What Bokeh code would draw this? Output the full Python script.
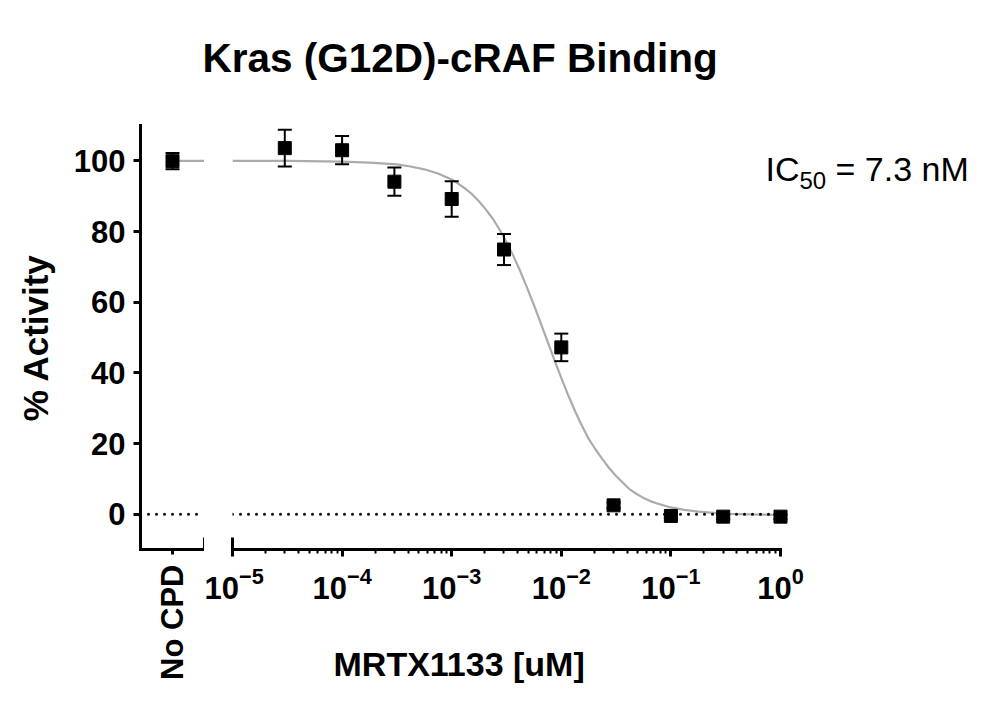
import math
from bokeh.plotting import figure
from bokeh.models import (ColumnDataSource, Range1d, FactorRange, LinearAxis,
                          FixedTicker, Whisker, TeeHead, Span, Label, Title)
from bokeh.layouts import row
from bokeh.embed import file_html
from bokeh.resources import INLINE

# ---------------- data ----------------
title_text = "Kras (G12D)-cRAF Binding"
y_label = "% Activity"
x_label = "MRTX1133 [uM]"
y_ticks = [0, 20, 40, 60, 80, 100]

control_label = ["No CPD"]
control_activity = [99.9]
control_sem = [2.3]

conc_uM = [3e-5, 1e-4, 3e-4, 1e-3, 3e-3, 1e-2, 3e-2, 1e-1, 3e-1, 1.0]
activity = [103.6, 103.0, 94.1, 89.2, 74.9, 47.2, 2.5, -0.5, -0.7, -0.7]
sem = [5.2, 4.0, 4.0, 5.0, 4.4, 3.9, 0.8, 0.6, 0.6, 0.6]

# fitted curve (log10 of concentration, % activity)
curve_log_conc = [-5.0, -4.5, -4.0, -3.75, -3.5, -3.375, -3.25, -3.125,
                  -3.0, -2.9375, -2.875, -2.8125, -2.75, -2.6875, -2.625,
                  -2.5625, -2.5, -2.4375, -2.375, -2.3125, -2.25, -2.1875,
                  -2.125, -2.0625, -2.0, -1.9375, -1.875, -1.8125, -1.75,
                  -1.6875, -1.625, -1.5625, -1.5, -1.4375, -1.375, -1.3125,
                  -1.25, -1.1875, -1.125, -1.0, -0.875, -0.75, -0.5,
                  -0.25, 0.0]
curve_activity = [100.0, 100.0, 99.8, 99.5, 99.0, 98.4, 97.6, 96.4,
                  94.7, 93.5, 92.1, 90.5, 88.5, 86.2, 83.6,
                  80.5, 77.0, 73.1, 68.8, 64.1, 59.2, 54.1,
                  48.8, 43.6, 38.6, 33.7, 29.2, 25.1, 21.3,
                  18.3, 15.6, 13.0, 10.8, 8.9, 7.0, 5.7,
                  4.6, 3.7, 3.0, 1.9, 1.2, 0.7, 0.1,
                  -0.1, -0.2]

ic50_parts = ["IC", "50", "= 7.3 nM"]

# ---------------- styling / layout ----------------
FONT = "Liberation Sans"
Y_START, Y_END = -10, 110
X_AXIS_MIN, X_AXIS_MAX = 1e-5, 1.0
HEIGHT = 712
TOP = 125
BOTTOM = HEIGHT - TOP - 424
LEFT_BORDER = 140
LEFT_W = 204
GAP = 28
RIGHT_W = 770
DECADE_PX = 109.6
CAP = 3.3
GREY = "#ababab"
DOTS = "0 8"

yr = Range1d(Y_START, Y_END)


def style_common(p):
    p.xgrid.visible = False
    p.ygrid.visible = False
    p.outline_line_color = None
    p.background_fill_color = "white"
    p.border_fill_color = "white"


def style_axis(ax, size="31px"):
    ax.major_label_text_font = FONT
    ax.major_label_text_font_style = "bold"
    ax.major_label_text_font_size = size
    ax.major_label_text_color = "black"
    ax.axis_label_text_color = "black"
    ax.axis_line_width = 3
    ax.axis_line_color = "black"
    ax.axis_line_cap = "square"
    ax.major_tick_line_width = 3
    ax.major_tick_line_color = "black"
    ax.major_tick_in = 0


def cap_axis():
    return LinearAxis(bounds=(Y_START - CAP, Y_START + CAP),
                      ticker=FixedTicker(ticks=[]),
                      axis_line_width=3, axis_line_color="black",
                      major_tick_in=0, major_tick_out=0,
                      minor_tick_in=0, minor_tick_out=0,
                      major_label_standoff=0, axis_label_standoff=0,
                      major_label_text_font_size="0px")


def spacer_axis(standoff):
    # an empty, invisible axis used only to reserve vertical room
    return LinearAxis(ticker=FixedTicker(ticks=[]), axis_line_color=None,
                      major_tick_in=0, major_tick_out=0,
                      minor_tick_in=0, minor_tick_out=0,
                      major_label_standoff=0,
                      major_label_text_font_size="0px",
                      axis_label=" ", axis_label_text_font_size="10px",
                      axis_label_standoff=standoff)


# ---- left panel: control ("No CPD") ----
left = figure(width=LEFT_W, height=HEIGHT,
              x_range=FactorRange(factors=control_label), y_range=yr,
              output_backend="svg", toolbar_location=None,
              min_border_left=LEFT_BORDER, min_border_right=0,
              min_border_top=TOP, min_border_bottom=BOTTOM)
style_common(left)

yax = left.yaxis[0]
style_axis(yax)
yax.ticker = FixedTicker(ticks=y_ticks)
yax.axis_label = y_label
yax.axis_label_text_font = FONT
yax.axis_label_text_font_style = "bold"
yax.axis_label_text_font_size = "35px"
yax.axis_label_standoff = 16
yax.major_label_standoff = 8
yax.major_tick_out = 7
yax.minor_tick_line_color = None

xax_l = left.xaxis[0]
style_axis(xax_l)
xax_l.major_label_orientation = math.pi / 2
xax_l.major_label_standoff = 10
xax_l.major_tick_out = 5

left.add_layout(cap_axis(), "right")

left.add_layout(Span(location=0, dimension="width", line_color="black",
                     line_width=3, line_dash=DOTS, line_cap="round"))

seg = left.line(x=[(control_label[0], 0.0), (control_label[0], 0.5)],
                y=[curve_activity[0], curve_activity[0]],
                line_color=GREY, line_width=2.2)
seg.level = "underlay"

src_c = ColumnDataSource(dict(
    x=control_label, y=control_activity,
    lower=[a - s for a, s in zip(control_activity, control_sem)],
    upper=[a + s for a, s in zip(control_activity, control_sem)]))
left.add_layout(Whisker(source=src_c, base="x", lower="lower", upper="upper",
                        line_width=2, level="underlay",
                        upper_head=TeeHead(size=14, line_width=2),
                        lower_head=TeeHead(size=14, line_width=2)))
left.scatter(x="x", y="y", source=src_c, marker="square", size=13,
             color="black")

# ---- right panel: dose response ----
frame_w = RIGHT_W - GAP
x_end = 10 ** (-5 + frame_w / DECADE_PX)
right = figure(width=RIGHT_W, height=HEIGHT, x_axis_type="log",
               x_range=Range1d(X_AXIS_MIN, x_end), y_range=yr,
               y_axis_location=None,
               output_backend="svg", toolbar_location=None,
               min_border_left=GAP, min_border_right=0,
               min_border_top=TOP, min_border_bottom=BOTTOM)
style_common(right)

xax = right.xaxis[0]
style_axis(xax)
xax.bounds = (X_AXIS_MIN, X_AXIS_MAX)
xax.major_label_standoff = 10
xax.major_tick_out = 7
xax.minor_tick_line_width = 2
xax.minor_tick_line_color = "black"
xax.minor_tick_out = 4
xax.minor_tick_in = 0
# invisible spacer so the axis title below sits lower
xax.axis_label = " "
xax.axis_label_text_font_size = "10px"
xax.axis_label_standoff = 27

right.add_layout(cap_axis(), "left")

right.line(x=[X_AXIS_MIN, X_AXIS_MAX], y=[0, 0], line_color="black",
           line_width=3, line_dash=DOTS, line_cap="round")

curve = right.line(x=[10 ** v for v in curve_log_conc], y=curve_activity,
                   line_color=GREY, line_width=2.2)
curve.level = "underlay"

src = ColumnDataSource(dict(
    x=conc_uM, y=activity,
    lower=[a - s for a, s in zip(activity, sem)],
    upper=[a + s for a, s in zip(activity, sem)]))
right.add_layout(Whisker(source=src, base="x", lower="lower", upper="upper",
                         line_width=2, level="underlay",
                         upper_head=TeeHead(size=14, line_width=2),
                         lower_head=TeeHead(size=14, line_width=2)))
right.scatter(x="x", y="y", source=src, marker="square", size=13,
              color="black")

# room between frame and chart title, then the title itself
right.add_layout(spacer_axis(29), "above")
right.add_layout(Title(text=title_text, align="left", offset=-30,
                       standoff=4, text_font=FONT, text_font_style="bold",
                       text_font_size="40.5px", text_color="black"), "above")
right.add_layout(Title(text=x_label, align="left", offset=101,
                       standoff=4, vertical_align="top", text_font=FONT,
                       text_font_style="bold", text_font_size="34px",
                       text_color="black"), "below")

# IC50 annotation (screen px relative to the right frame)
right.add_layout(Label(x=533, y=381, x_units="screen", y_units="screen",
                       text=ic50_parts[0], text_align="left",
                       text_baseline="alphabetic", text_font=FONT,
                       text_font_size="34px", text_color="black"))
right.add_layout(Label(x=567, y=369, x_units="screen", y_units="screen",
                       text=ic50_parts[1], text_align="left",
                       text_baseline="alphabetic", text_font=FONT,
                       text_font_size="24px", text_color="black"))
right.add_layout(Label(x=603, y=381, x_units="screen", y_units="screen",
                       text=ic50_parts[2], text_align="left",
                       text_baseline="alphabetic", text_font=FONT,
                       text_font_size="34px", text_color="black"))

layout = row(left, right, spacing=0)

with open("out.html", "w") as f:
    f.write(file_html(layout, INLINE))
